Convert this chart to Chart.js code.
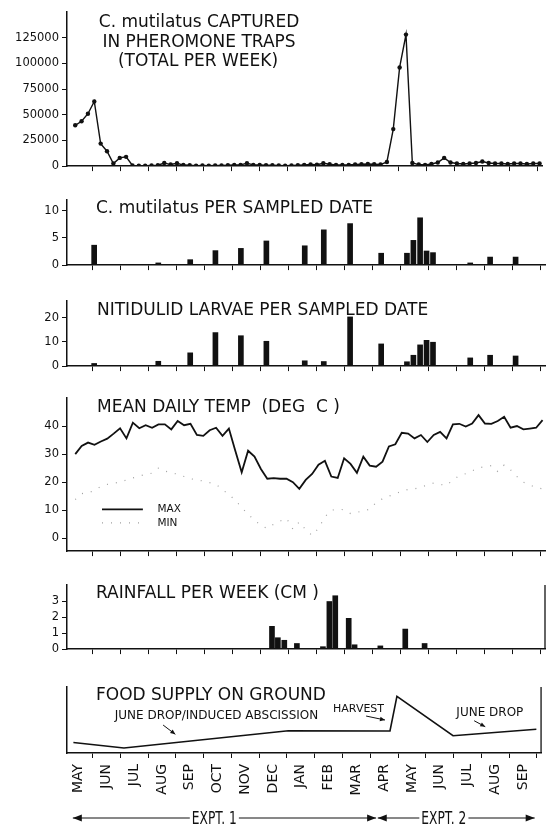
<!DOCTYPE html>
<html>
<head>
<meta charset="utf-8">
<title>C. mutilatus, nitidulids, weather and food supply</title>
<script src="https://cdn.jsdelivr.net/npm/chart.js@4.4.1/dist/chart.umd.min.js"></script>
<style>
  html, body { margin: 0; padding: 0; background: #fff; }
  body { position: relative; width: 546px; height: 827px; overflow: hidden; }
  .panel { position: absolute; left: 0; width: 546px; }
</style>
</head>
<body>
<div class="panel" style="top:0px;height:176px"><canvas id="traps"></canvas></div>
<div class="panel" style="top:190px;height:85px"><canvas id="adults"></canvas></div>
<div class="panel" style="top:290px;height:86px"><canvas id="larvae"></canvas></div>
<div class="panel" style="top:386px;height:175px"><canvas id="temp"></canvas></div>
<div class="panel" style="top:575px;height:84px"><canvas id="rain"></canvas></div>
<div class="panel" style="top:675px;height:152px"><canvas id="food"></canvas></div>
<script>
// --- データ (x は 1年目5月初めからの月数) ---
const MONTHS = ["MAY", "JUN", "JUL", "AUG", "SEP", "OCT", "NOV", "DEC", "JAN", "FEB", "MAR", "APR", "MAY", "JUN", "JUL", "AUG", "SEP"];
const MONTH_TICKS = [1, 2, 3, 4, 5, 6, 7, 8, 9, 10, 11, 12, 13, 14, 15, 16, 17];
const MONTH_LABEL_POS = [0.5, 1.5, 2.5, 3.5, 4.5, 5.5, 6.5, 7.5, 8.5, 9.5, 10.5, 11.5, 12.5, 13.5, 14.5, 15.5, 16.5];

// weekly readings (traps, temperatures)
const WEEK_START = 0.375;
const WEEK_LEN = 0.2286;

const trapCatch = [
  39700, 43600, 51000, 63000, 21900, 14500, 2500, 8000, 9000, 600,
  500, 400, 600, 800, 3000, 1500, 2800, 1000, 800, 500,
  600, 500, 700, 600, 800, 1000, 1200, 2800, 1200, 1000,
  900, 800, 600, 500, 700, 900, 1200, 1500, 1300, 2800,
  1800, 1200, 1000, 1200, 1500, 1800, 2000, 1800, 1500, 4000,
  36000, 96000, 128000, 3000, 1500, 1200, 2000, 3500, 8000, 3500,
  2500, 2000, 2500, 3000, 4500, 3000, 2500, 2500, 2000, 2500,
  2500, 2000, 2500, 2500
];

const tempMax = [
  30.0, 32.9, 34.1, 33.3, 34.5, 35.5, 37.3, 39.2, 35.6, 41.2,
  39.2, 40.3, 39.4, 40.6, 40.6, 38.8, 41.8, 40.3, 40.8, 36.8,
  36.5, 38.5, 39.4, 36.5, 39.1, 31.2, 23.5, 31.2, 29.1, 24.7,
  21.2, 21.4, 21.2, 21.2, 20.0, 17.6, 20.8, 22.9, 26.2, 27.6,
  22.0, 21.5, 28.5, 26.5, 23.3, 29.1, 25.9, 25.5, 27.3, 32.7,
  33.5, 37.6, 37.3, 35.6, 36.8, 34.3, 36.8, 37.9, 35.6, 40.6,
  40.8, 39.8, 40.9, 43.9, 40.9, 40.8, 41.8, 43.3, 39.4, 40.0,
  38.8, 39.1, 39.4, 42.1
];

const tempMin = [
  13.8, 15.9, 16.2, 17.0, 18.5, 19.2, 19.6, 20.0, 20.8, 21.5,
  22.2, 22.7, 23.2, 25.0, 24.0, 23.2, 22.9, 22.0, 21.2, 20.8,
  20.4, 19.8, 19.2, 17.3, 15.6, 13.5, 11.0, 8.5, 6.5, 4.5,
  3.5, 5.0, 6.1, 7.1, 3.2, 5.8, 3.0, 1.0, 3.5, 7.6,
  10.0, 10.3, 10.2, 8.8, 9.2, 9.8, 10.3, 12.7, 14.1, 15.0,
  15.8, 16.8, 17.4, 17.6, 18.2, 19.0, 19.7, 19.2, 18.8, 20.8,
  22.3, 23.0, 24.0, 25.1, 25.5, 25.9, 23.8, 26.1, 24.4, 22.0,
  20.0, 19.0, 18.0, 17.6
];

// sampled dates (adults and larvae per sampled date)
const sampleDates = [1.05, 2.36, 3.34, 4.48, 5.38, 6.29, 7.20, 8.57, 9.25, 10.19, 11.30, 12.22, 12.45, 12.69, 12.92, 13.15, 14.48, 15.19, 16.10];
const adultsPerDate = [3.67, 0, 0.4, 1.0, 2.67, 3.08, 4.45, 3.56, 6.5, 7.65, 2.19, 2.19, 4.56, 8.72, 2.6, 2.3, 0.4, 1.48, 1.48];
const larvaePerDate = [1.1, 0.3, 2.0, 5.5, 13.9, 12.6, 10.3, 2.2, 1.9, 20.4, 9.2, 1.8, 4.5, 8.8, 10.7, 9.9, 3.4, 4.5, 4.2];

// rainfall per week (cm)
const rainDates = [7.40, 7.61, 7.84, 8.29, 9.22, 9.45, 9.66, 10.14, 10.35, 11.27, 12.16, 12.85];
const rainWeekly = [1.42, 0.71, 0.55, 0.35, 0.15, 2.97, 3.33, 1.92, 0.27, 0.2, 1.25, 0.35];

// food supply on ground (relative units)
const foodDates = [0.31, 2.13, 8.05, 11.71, 11.96, 13.98, 16.98];
const foodSupply = [1.59, 0.76, 3.36, 3.33, 8.58, 2.62, 3.61];

// --- 共通設定 ---
const FONT = "'DejaVu Sans', 'Liberation Sans', sans-serif";
const INK = "#111";
const X_MIN = 0.08, X_MAX = 17.15;
const AXIS_W = 67;

const weekX = trapCatch.map((_, i) => WEEK_START + i * WEEK_LEN);
const pts = (xs, ys) => ys.map((y, i) => ({ x: xs[i], y: y }));

function xTickAxis() {
  return {
    type: "linear", min: X_MIN, max: X_MAX, offset: false,
    afterBuildTicks: s => { s.ticks = MONTH_TICKS.map(v => ({ value: v })); },
    afterFit: s => { s.height = 5; },
    ticks: { display: false },
    grid: { display: true, drawOnChartArea: false, drawTicks: true, tickLength: 5, color: INK, lineWidth: 1, offset: false },
    border: { display: true, color: INK, width: 1.5 }
  };
}

function yAxis(min, max, ticks, show = true) {
  return {
    type: "linear", min: min, max: max,
    afterBuildTicks: s => { s.ticks = ticks.map(v => ({ value: v })); },
    afterFit: s => { s.width = AXIS_W; },
    ticks: { display: show, font: { family: FONT, size: 11.5 }, color: INK, padding: 3, callback: v => String(v) },
    grid: { display: show, drawOnChartArea: false, drawTicks: true, tickLength: 5, color: INK, lineWidth: 1 },
    border: { display: true, color: INK, width: 1.5 }
  };
}

const monthLabelAxis = {
  type: "linear", position: "bottom", min: X_MIN, max: X_MAX, offset: false,
  afterBuildTicks: s => { s.ticks = MONTH_LABEL_POS.map(v => ({ value: v })); },
  afterFit: s => { s.height = 40; },
  ticks: {
    autoSkip: false, maxRotation: 90, minRotation: 90, padding: 6,
    font: { family: FONT, size: 14 }, color: INK,
    callback: (v, i) => MONTHS[i]
  },
  grid: { display: false, drawTicks: false },
  border: { display: false }
};

// --- 注記 (タイトル、矢印、凡例) ---
const NOTES = {
  traps: {
    titles: [
      { text: "C. mutilatus CAPTURED", dx: 132, dy: 15.3, align: "center" },
      { text: "IN PHEROMONE TRAPS", dx: 132, dy: 34.7, align: "center" },
      { text: "(TOTAL PER WEEK)", dx: 131, dy: 53.5, align: "center" }
    ]
  },
  adults: { titles: [{ text: "C. mutilatus PER SAMPLED DATE", dx: 29, dy: 13.3 }] },
  larvae: { titles: [{ text: "NITIDULID LARVAE PER SAMPLED DATE", dx: 30, dy: 14 }] },
  temp: {
    titles: [{ text: "MEAN DAILY TEMP  (DEG  C )", dx: 30, dy: 14.3 }],
    legend: { m1: 1.33, m2: 2.79, text: 3.31, vMax: 10.3, vMin: 5.5 }
  },
  rain: { titles: [{ text: "RAINFALL PER WEEK (CM )", dx: 29, dy: 13.3 }], frameRight: true },
  food: {
    titles: [{ text: "FOOD SUPPLY ON GROUND", dx: 29, dy: 13 }],
    frameRight: true,
    labels: [
      { text: "JUNE DROP/INDUCED ABSCISSION", m: 1.80, v: 5.11, size: 12 },
      { text: "HARVEST", m: 9.66, v: 6.14, size: 11 },
      { text: "JUNE DROP", m: 14.10, v: 5.60, size: 12 }
    ],
    arrows: [[3.54, 4.24, 3.98, 2.83], [10.85, 5.6, 11.53, 5.0], [14.74, 4.89, 15.14, 3.98]],
    expts: [
      { text: "EXPT. 1", from: 0.29, mid: 5.385, to: 11.21 },
      { text: "EXPT. 2", from: 11.27, mid: 13.65, to: 16.92 }
    ]
  }
};

function head(ctx, x, y, ang, len, half) {
  ctx.beginPath();
  ctx.moveTo(x, y);
  ctx.lineTo(x - len * Math.cos(ang) + half * Math.sin(ang), y - len * Math.sin(ang) - half * Math.cos(ang));
  ctx.lineTo(x - len * Math.cos(ang) - half * Math.sin(ang), y - len * Math.sin(ang) + half * Math.cos(ang));
  ctx.closePath();
  ctx.fill();
}

const notesPlugin = {
  id: "notes",
  afterDraw(chart) {
    const n = NOTES[chart.canvas.id];
    if (!n) return;
    const { ctx, chartArea: a, scales } = chart;
    const px = m => scales.x.getPixelForValue(m);
    const py = v => scales.y.getPixelForValue(v);
    ctx.save();
    ctx.fillStyle = INK;
    ctx.strokeStyle = INK;
    ctx.textBaseline = "alphabetic";

    (n.titles || []).forEach(t => {
      ctx.font = `17px ${FONT}`;
      ctx.textAlign = t.align || "left";
      ctx.fillText(t.text, a.left + t.dx, a.top + t.dy);
    });

    (n.labels || []).forEach(t => {
      ctx.font = `${t.size}px ${FONT}`;
      ctx.textAlign = "left";
      ctx.fillText(t.text, px(t.m), py(t.v));
    });

    ctx.lineWidth = 1;
    (n.arrows || []).forEach(r => {
      const x1 = px(r[0]), y1 = py(r[1]), x2 = px(r[2]), y2 = py(r[3]);
      ctx.beginPath(); ctx.moveTo(x1, y1); ctx.lineTo(x2, y2); ctx.stroke();
      head(ctx, x2, y2, Math.atan2(y2 - y1, x2 - x1), 5, 2.2);
    });

    if (n.frameRight) {
      ctx.lineWidth = 1.3;
      ctx.beginPath(); ctx.moveTo(a.right, a.top); ctx.lineTo(a.right, a.bottom); ctx.stroke();
    }

    if (n.legend) {
      const L = n.legend;
      ctx.lineWidth = 1.8;
      ctx.beginPath(); ctx.moveTo(px(L.m1), py(L.vMax)); ctx.lineTo(px(L.m2), py(L.vMax)); ctx.stroke();
      ctx.save();
      ctx.strokeStyle = "#a0a0a0"; ctx.lineWidth = 1.2; ctx.setLineDash([1, 8]);
      ctx.beginPath(); ctx.moveTo(px(L.m1), py(L.vMin)); ctx.lineTo(px(L.m2), py(L.vMin)); ctx.stroke();
      ctx.restore();
      ctx.font = `10.5px ${FONT}`;
      ctx.textAlign = "left"; ctx.textBaseline = "middle";
      ctx.fillText("MAX", px(L.text), py(L.vMax));
      ctx.fillText("MIN", px(L.text), py(L.vMin));
    }

    if (n.expts) {
      const y = a.bottom + 65;
      ctx.font = `18px ${FONT}`;
      ctx.textBaseline = "middle"; ctx.textAlign = "center";
      ctx.lineWidth = 1;
      n.expts.forEach(e => {
        const x1 = px(e.from), x2 = px(e.to), xm = px(e.mid);
        const half = ctx.measureText(e.text).width * 0.68 / 2;
        ctx.beginPath();
        ctx.moveTo(x1, y); ctx.lineTo(xm - half - 2, y);
        ctx.moveTo(xm + half + 2, y); ctx.lineTo(x2, y);
        ctx.stroke();
        head(ctx, x1, y, Math.PI, 9, 3.5);
        head(ctx, x2, y, 0, 9, 3.5);
        ctx.save();
        ctx.translate(xm, y);
        ctx.scale(0.68, 1);
        ctx.fillText(e.text, 0, 1);
        ctx.restore();
      });
    }
    ctx.restore();
  }
};

function panel(id, type, datasets, yScale, padding, extraScales) {
  return new Chart(document.getElementById(id), {
    type: type,
    data: { datasets: datasets },
    options: {
      responsive: true,
      maintainAspectRatio: false,
      animation: false,
      layout: { padding: padding },
      scales: Object.assign({ x: xTickAxis(), y: yScale }, extraScales || {}),
      plugins: { legend: { display: false }, tooltip: { enabled: false } }
    },
    plugins: [notesPlugin]
  });
}

const barStyle = { backgroundColor: INK, borderWidth: 0, barThickness: 5, grouped: false };

// --- パネル描画 ---
panel("traps", "line", [{
  data: pts(weekX, trapCatch), borderColor: INK, borderWidth: 1.4,
  pointRadius: 2.2, pointBackgroundColor: INK, pointBorderWidth: 0, tension: 0
}], yAxis(0, 150000, [0, 25000, 50000, 75000, 100000, 125000]), { top: 12, bottom: 3, left: 0, right: 1 });

panel("adults", "bar", [Object.assign({ data: pts(sampleDates, adultsPerDate) }, barStyle)],
  yAxis(0, 12, [0, 5, 10]), { top: 10, bottom: 3, left: 0, right: 1 });

panel("larvae", "bar", [Object.assign({ data: pts(sampleDates, larvaePerDate) }, barStyle)],
  yAxis(0, 27, [0, 10, 20]), { top: 11, bottom: 3, left: 0, right: 1 });

panel("temp", "line", [
  { data: pts(weekX, tempMax), borderColor: INK, borderWidth: 1.8, pointRadius: 0, tension: 0 },
  { data: pts(weekX, tempMin), borderColor: "#a0a0a0", borderWidth: 1.2, borderDash: [1, 8], pointRadius: 0, tension: 0 }
], yAxis(-4.6, 50, [0, 10, 20, 30, 40]), { top: 12, bottom: 3, left: 0, right: 1 });

panel("rain", "bar", [Object.assign({ data: pts(rainDates, rainWeekly) }, barStyle)],
  yAxis(0, 4, [0, 1, 2, 3]), { top: 10, bottom: 3, left: 0, right: 1 });

panel("food", "line", [{
  data: pts(foodDates, foodSupply), borderColor: INK, borderWidth: 1.6, pointRadius: 0, tension: 0
}], yAxis(0, 10, [0], false), { top: 12, bottom: 29, left: 0, right: 1 }, { xm: monthLabelAxis });
</script>
</body>
</html>
